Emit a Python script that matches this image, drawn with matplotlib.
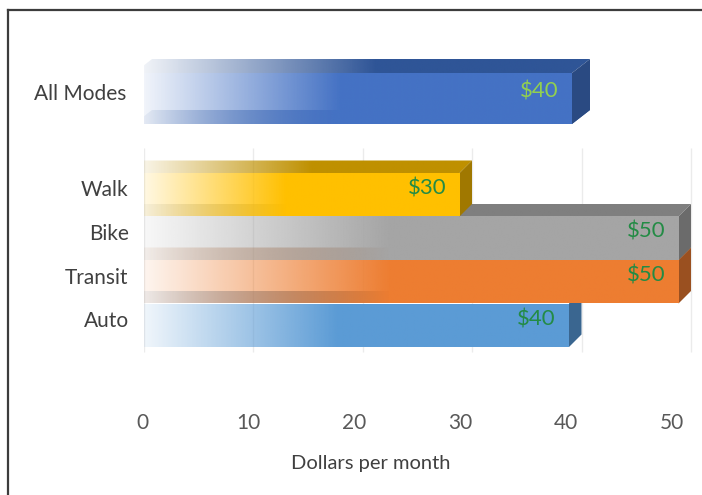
import matplotlib
matplotlib.use("Agg")
import matplotlib.pyplot as plt
import numpy as np
from matplotlib.colors import to_rgb
from matplotlib.patches import Polygon
from matplotlib.lines import Line2D

# data
top_cat = ["All Modes"]
top_val = [40]
modes = ["Walk", "Bike", "Transit", "Auto"]
mode_val = [30, 50, 50, 40]
ticks = [0, 10, 20, 30, 40, 50]

# colours: front face, top face, side face
top_front = ["#4472C4"]
top_top = ["#2F5597"]
top_side = ["#2A4A82"]
mode_front = ["#FFC000", "#A5A5A5", "#ED7D31", "#5B9BD5"]
mode_top = ["#BF9000", "#7F7F7F", "#B0602A", "#41719C"]
mode_side = ["#A07800", "#6B6B6B", "#9A5020", "#3A6690"]

plt.rcParams["font.family"] = ["Lato", "DejaVu Sans"]

W, H = 702, 495
fig = plt.figure(figsize=(W / 100, H / 100), dpi=100)

PXU = 10.95   # pixels per dollar
A0 = 0.03     # alpha at the start of a bar
G = 0.47      # part of the bar that fades in


def px_axes(x0, y0, x1, y1):
    return fig.add_axes([x0 / W, 1 - y1 / H, (x1 - x0) / W, (y1 - y0) / H])


def grad_face(ax, verts, color, v, z, g=G):
    verts = np.array(verts)
    xmin, xmax = verts[:, 0].min(), verts[:, 0].max()
    ymin, ymax = verts[:, 1].min(), verts[:, 1].max()
    xs = np.linspace(xmin, xmax, 500)
    a = np.clip(A0 + (1 - A0) * xs / (g * v), 0, 1)
    rgba = np.zeros((1, len(xs), 4))
    rgba[..., :3] = to_rgb(color)
    rgba[..., 3] = a
    im = ax.imshow(rgba, extent=(xmin, xmax, ymax, ymin), aspect="auto",
                   interpolation="bilinear", zorder=z)
    im.set_clip_path(Polygon(verts, closed=True, transform=ax.transData))


def draw_bar(ax, i, v, fc, tc, sc, dx, dy, z, floor=False):
    y0, y1 = i - 0.5, i + 0.5
    if floor:
        grad_face(ax, [(0, y1), (v, y1), (v + dx, y1 - dy), (dx, y1 - dy)], tc, v, z, 0.6)
    grad_face(ax, [(0, y0), (v, y0), (v + dx, y0 - dy), (dx, y0 - dy)], tc, v, z + 0.1, 0.55)
    ax.add_patch(Polygon([(v, y0), (v + dx, y0 - dy), (v + dx, y1 - dy), (v, y1)],
                         closed=True, facecolor=sc, edgecolor="none", zorder=z + 0.1))
    grad_face(ax, [(0, y0), (v, y0), (v, y1), (0, y1)], fc, v, z + 0.2)


def panel(ax, cats, vals, fcs, tcs, scs, zero_px, x0px, x1px, dx_px, dy_px,
          band_px, c0_px, y0px, y1px, lab_col, lab_pad, floor=False, grid=False):
    dx = dx_px / PXU
    dy = dy_px / band_px
    xl = ((x0px - zero_px) / PXU, (x1px - zero_px) / PXU)
    yt = (y0px - c0_px) / band_px
    yb = (y1px - c0_px) / band_px
    if grid:
        ax.vlines(np.array(ticks) + dx, yt, (352 - c0_px) / band_px,
                  color="#EBEBEB", lw=1, zorder=0)
    n = len(cats)
    for i in range(n - 1, -1, -1):
        draw_bar(ax, i, vals[i], fcs[i], tcs[i], scs[i], dx, dy, 2 + (n - i), floor)
        ax.annotate(f"${vals[i]}", xy=(vals[i], i - dy / 2), xytext=(-9.5, 0),
                    textcoords="offset points", ha="right", va="center",
                    fontsize=16, color=lab_col, zorder=20)
    ax.set_xlim(*xl)
    ax.set_ylim(yb, yt)
    ax.set_yticks(np.arange(n) - dy / 2)
    ax.set_yticklabels(cats, fontsize=15, color="#404040")
    ax.tick_params(axis="y", length=0, pad=lab_pad)
    ax.set_xticks([])
    for s in ax.spines.values():
        s.set_visible(False)


ax1 = px_axes(144, 50, 700, 140)
panel(ax1, top_cat, top_val, top_front, top_top, top_side, 134, 144, 700,
      18, 14, 51, 98.5, 50, 140, "#92D050", 13, floor=True)

ax2 = px_axes(144, 148, 700, 356)
panel(ax2, modes, mode_val, mode_front, mode_top, mode_side, 131, 144, 700,
      12.5, 12.5, 43.5, 194.75, 148, 356, "#238B45", 11, grid=True)

# x tick labels sit on the front edge of the floor
ax3 = px_axes(142, 413, 672, 433)
ax3.set_xlim(0, 50)
ax3.set_ylim(0, 1)
ax3.axis("off")
for t in ticks:
    ax3.text(t, 0.5, str(t), ha="center", va="center", fontsize=15, color="#595959")

fig.text(371 / W, 1 - 463 / H, "Dollars per month", ha="center", va="center",
         fontsize=14.5, color="#404040")

# frame (only top and left show in the crop)
fig.add_artist(Line2D([8 / W, 8 / W], [0, 1 - 10 / H], transform=fig.transFigure,
                      color="#3C3C3C", lw=1.6))
fig.add_artist(Line2D([8 / W, 1], [1 - 10 / H, 1 - 10 / H], transform=fig.transFigure,
                      color="#3C3C3C", lw=1.6))

fig.savefig("out.png", dpi=100)
